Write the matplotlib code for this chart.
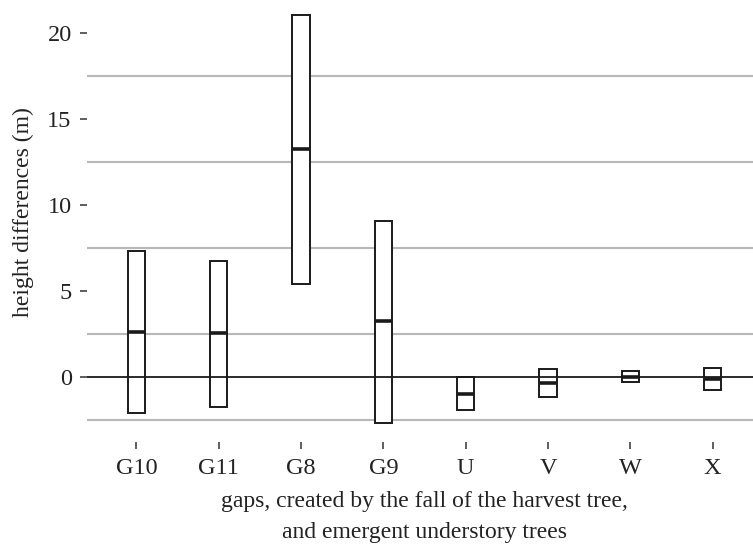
import matplotlib.pyplot as plt
import numpy as np

# height differences per gap / understory tree
groups = ['G10', 'G11', 'G8', 'G9', 'U', 'V', 'W', 'X']
lower = [-2.09, -1.71, 5.42, -2.67, -1.90, -1.13, -0.29, -0.74]
median = [2.65, 2.59, 13.27, 3.27, -0.97, -0.35, 0.03, -0.10]
upper = [7.36, 6.76, 21.08, 9.10, 0.00, 0.48, 0.38, 0.56]

plt.rcParams['font.family'] = 'Liberation Serif'

fig = plt.figure(figsize=(7.53, 5.45), dpi=100)
ax = fig.add_axes([0.1155, 0.1894, 0.8966, 0.8222])

x = np.arange(1, len(groups) + 1)
lo = np.array(lower)
hi = np.array(upper)
w = 0.21

ax.bar(x, hi - lo, bottom=lo, width=w, facecolor='white', edgecolor='#1a1a1a',
       linewidth=1.4, zorder=3)
ax.hlines(median, x - w / 2, x + w / 2, color='#1a1a1a', linewidth=2.6, zorder=4)
ax.axhline(0, color='#1a1a1a', linewidth=1.3, zorder=5)

ax.set_xlim(0.4, 8.6)
ax.set_ylim(-3.75, 22.3)
ax.set_xticks(x)
ax.set_xticklabels(groups)
ax.set_yticks([0, 5, 10, 15, 20])
ax.set_yticks([-2.5, 2.5, 7.5, 12.5, 17.5], minor=True)
ax.grid(which='minor', axis='y', color='#b8b8b8', linewidth=1.5, zorder=0)
ax.grid(which='major', visible=False)
ax.set_axisbelow(True)

for s in ax.spines.values():
    s.set_visible(False)
ax.tick_params(axis='both', which='major', length=5, width=1.1, color='#333333',
               labelsize=17.5, labelcolor='#222222')
ax.tick_params(axis='y', which='major', pad=6)
ax.tick_params(axis='x', which='major', pad=7)
ax.tick_params(which='minor', length=0)

fig.text(23 / 753, 1 - 212 / 545, 'height differences (m)', rotation=90,
         ha='center', va='center', fontsize=17, color='#222222')
xlabel_lines = ['gaps, created by the fall of the harvest tree,',
                'and emergent understory trees']
for i, line in enumerate(xlabel_lines):
    fig.text(424 / 753, 1 - (507 + 31 * i) / 545, line,
             ha='center', va='baseline', fontsize=17, color='#222222')

fig.savefig('out.png', dpi=100)
